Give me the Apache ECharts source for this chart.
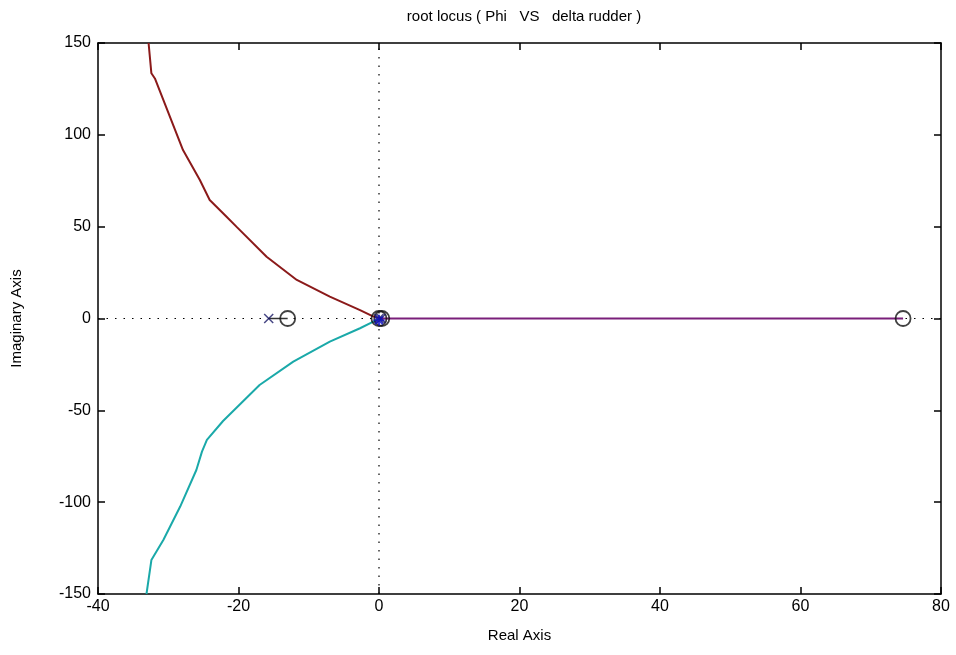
<!DOCTYPE html>
<html><head><meta charset="utf-8">
<script src="https://cdn.jsdelivr.net/npm/echarts@6/dist/echarts.min.js"></script>
<style>html,body{margin:0;padding:0;background:#fff}#c{width:956px;height:655px}</style>
</head><body><div id="c"></div>
<script>
const upperBranch = [[-32.8,150],[-32.4,133.5],[-31.9,130.7],[-27.9,91.7],[-25.5,75.4],[-24.1,64.5],[-21.7,55.4],[-20.3,50],[-16.0,33.6],[-11.7,21],[-7.0,11.9],[-2.7,4.6],[-1.0,1.4],[0,0]];
const lowerBranch = [[-33.1,-150],[-32.4,-131.5],[-30.7,-120.6],[-28.3,-102.4],[-26.0,-82.5],[-25.2,-72.5],[-24.5,-66.1],[-22.2,-55.8],[-17.0,-36.2],[-12.2,-23.5],[-7.0,-12.6],[-2.7,-5.3],[-0.8,-1.7],[0,0]];
const realBranch = [[0,0],[74.6,0]];
const leftBranch = [[-15.7,0],[-13,0]];
const poles = [[-15.7,0],[0,0],[0.3,0]];
const zeros = [[-13,0],[74.6,0],[0,0],[0.4,0]];
const xTicks = [-40,80,20];
const yTicks = [-150,150,50];

const font = '"Liberation Sans", Arial, sans-serif';
const chart = echarts.init(document.getElementById('c'));
const axisCommon = {
  axisLine:{show:true,onZero:false,lineStyle:{color:'#000',width:1.5}},
  axisTick:{show:true,inside:true,length:7,lineStyle:{color:'#000',width:1.5}},
  splitLine:{show:false}
};
const xMarker = 'path://M0,0L10,10M10,0L0,10';
chart.setOption({
  animation:false,
  backgroundColor:'#fff',
  title:{text:'root locus ( Phi   VS   delta rudder )',left:519,top:4,textAlign:'center',
    textStyle:{fontFamily:font,fontSize:15,fontWeight:'normal',color:'#000'}},
  grid:{left:98,right:15,top:43,bottom:61},
  xAxis:[
    Object.assign({type:'value',min:xTicks[0],max:xTicks[1],interval:xTicks[2],position:'bottom',
      name:'Real Axis',nameLocation:'middle',nameGap:34,
      nameTextStyle:{fontFamily:font,fontSize:15,color:'#000'},
      axisLabel:{fontFamily:font,fontSize:16,color:'#000',margin:5}},axisCommon),
    Object.assign({type:'value',min:xTicks[0],max:xTicks[1],interval:xTicks[2],position:'top',
      axisLabel:{show:false}},axisCommon)
  ],
  yAxis:[
    Object.assign({type:'value',min:yTicks[0],max:yTicks[1],interval:yTicks[2],position:'left',
      name:'Imaginary Axis',nameLocation:'middle',nameGap:74,
      nameTextStyle:{fontFamily:font,fontSize:15,color:'#000'},
      axisLabel:{fontFamily:font,fontSize:16,color:'#000',margin:7}},axisCommon),
    Object.assign({type:'value',min:yTicks[0],max:yTicks[1],interval:yTicks[2],position:'right',
      axisLabel:{show:false}},axisCommon)
  ],
  series:[
    {type:'line',data:[[xTicks[0],0],[xTicks[1],0]],symbol:'none',silent:true,
      lineStyle:{color:'#000',width:1.2,type:[1.5,7]}},
    {type:'line',data:[[0,yTicks[0]],[0,yTicks[1]]],symbol:'none',silent:true,
      lineStyle:{color:'#000',width:1.2,type:[1.5,7]}},
    {type:'line',data:upperBranch,symbol:'none',lineStyle:{color:'#8b1a1a',width:2}},
    {type:'line',data:lowerBranch,symbol:'none',lineStyle:{color:'#1aa9a9',width:2}},
    {type:'line',data:realBranch,symbol:'none',lineStyle:{color:'#7a1f7a',width:2}},
    {type:'line',data:leftBranch,symbol:'none',lineStyle:{color:'#333',width:1.5}},
    {type:'scatter',data:poles,symbol:xMarker,symbolSize:9,z:5,
      itemStyle:{color:'none',borderColor:'#1a1a66',borderWidth:1.5}},
    {type:'scatter',data:zeros,symbol:'circle',symbolSize:15,z:4,
      itemStyle:{color:'rgba(255,255,255,0)',borderColor:'#111',borderWidth:1.8}},
    {type:'scatter',data:[[0,-1]],symbol:'path://M5,0L5,10M0,5L10,5M1.5,1.5L8.5,8.5M8.5,1.5L1.5,8.5',symbolSize:11,z:6,
      itemStyle:{color:'none',borderColor:'#1010c0',borderWidth:2}}
  ]
});
</script></body></html>
